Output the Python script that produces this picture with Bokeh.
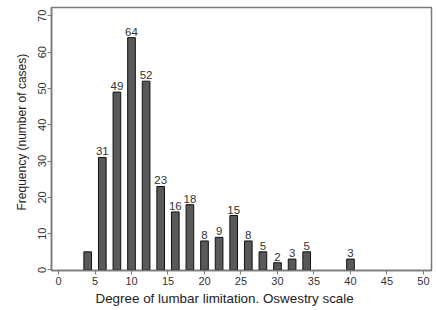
from bokeh.plotting import figure
from bokeh.models import ColumnDataSource, Range1d, FixedTicker, Title
from bokeh.core.properties import value
from bokeh.embed import file_html
from bokeh.resources import INLINE

# Data
scores = [4, 6, 8, 10, 12, 14, 16, 18, 20, 22, 24, 26, 28, 30, 32, 34, 40]
counts = [5, 31, 49, 64, 52, 23, 16, 18, 8, 9, 15, 8, 5, 2, 3, 5, 3]
labels = ["", "31", "49", "64", "52", "23", "16", "18", "8", "9", "15", "8", "5", "2", "3", "5", "3"]
x_ticks = [0, 5, 10, 15, 20, 25, 30, 35, 40, 45, 50]
y_ticks = [0, 10, 20, 30, 40, 50, 60, 70]
x_title = "Degree of lumbar limitation. Oswestry scale"
y_title = "Frequency (number of cases)"

FONT = "Liberation Sans"
AXIS_COL = "#7a7a7a"
TEXT_COL = "#333333"

src = ColumnDataSource(dict(x=scores, y=counts, lab=labels))

p = figure(width=437, height=310, output_backend="svg", toolbar_location=None,
           x_range=Range1d(-0.96, 51.1), y_range=Range1d(-0.14, 72.3),
           min_border_left=51, min_border_right=6, min_border_top=7, min_border_bottom=40)

p.vbar(x="x", top="y", bottom=0, width=1.05, source=src,
       fill_color="#595959", line_color="#111111", line_width=1)
p.text(x="x", y="y", text="lab", source=src, text_align="center", text_baseline="bottom",
       y_offset=-2, text_font_size="11.5px", text_color=TEXT_COL, text_font=value(FONT))

p.grid.visible = False
p.outline_line_color = AXIS_COL
p.outline_line_width = 1.5
p.background_fill_color = "white"
p.border_fill_color = "white"

for ax in (p.xaxis[0], p.yaxis[0]):
    ax.axis_line_color = AXIS_COL
    ax.axis_line_width = 1.5
    ax.major_tick_line_color = AXIS_COL
    ax.major_tick_in = 0
    ax.major_tick_out = 4
    ax.minor_tick_line_color = None
    ax.major_label_text_font = FONT
    ax.major_label_text_font_size = "11px"
    ax.major_label_text_color = TEXT_COL

p.xaxis.ticker = FixedTicker(ticks=x_ticks)
p.yaxis.ticker = FixedTicker(ticks=y_ticks)
p.xaxis.major_label_standoff = 2
p.yaxis.major_label_standoff = 1
p.yaxis.major_label_orientation = "vertical"

xt = Title(text=x_title, align="left", offset=44, standoff=2,
           text_font=FONT, text_font_size="13.4px", text_font_style="normal", text_color="#222222")
p.add_layout(xt, "below")
yt = Title(text=y_title, align="left", offset=60, standoff=13,
           text_font=FONT, text_font_size="12px", text_font_style="normal", text_color="#222222")
p.add_layout(yt, "left")

open("out.html", "w").write(file_html(p, INLINE))
